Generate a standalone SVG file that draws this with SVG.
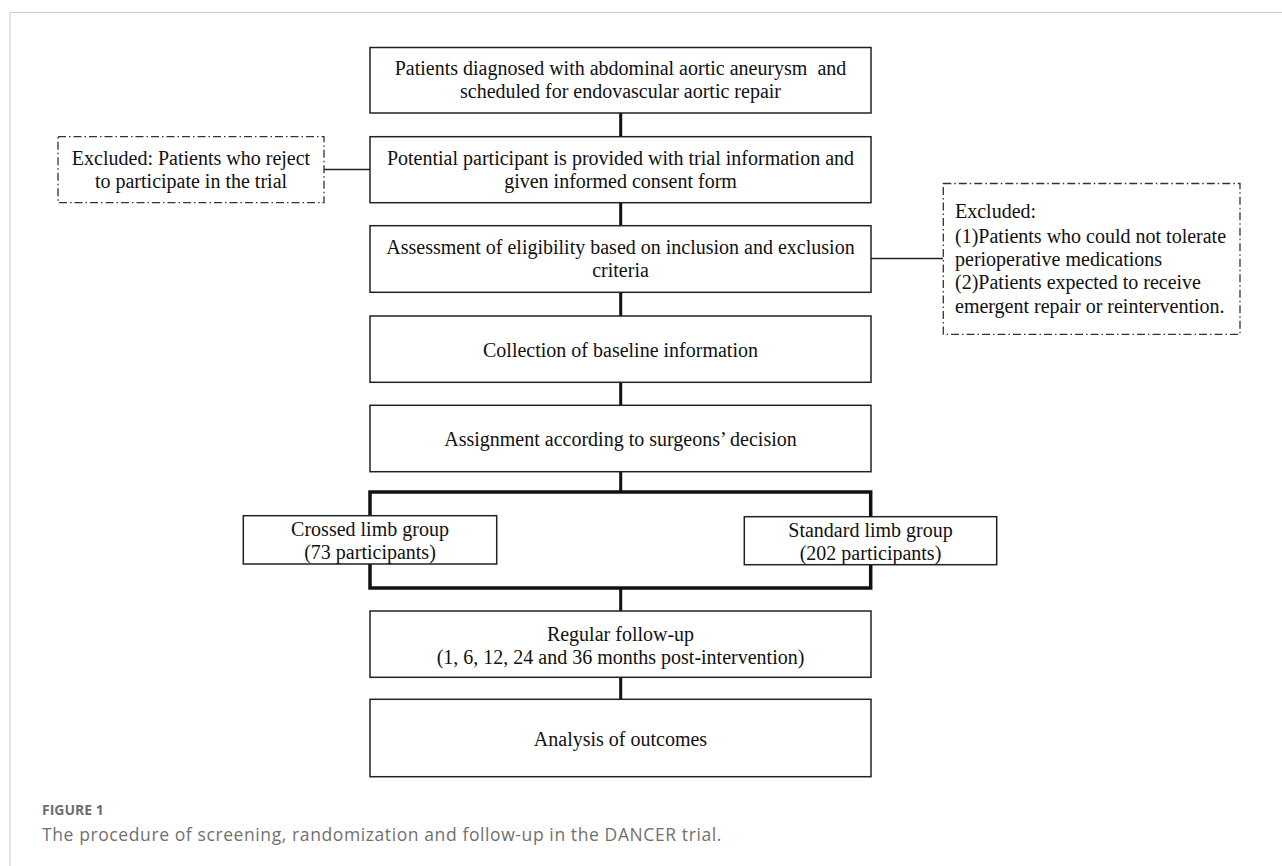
<svg xmlns="http://www.w3.org/2000/svg" width="1282" height="866" viewBox="0 0 1282 866">
<style>
  .box { fill: #ffffff; stroke: #222222; stroke-width: 1.5; }
  .dash { fill: #ffffff; stroke: #333333; stroke-width: 1.3; stroke-dasharray: 8 3 1.5 3; }
  .t { font-family: "Liberation Serif", "Times New Roman", serif; font-size: 20px; fill: #111111; white-space: pre; }
  .c { text-anchor: middle; }
  .conn { stroke: #111111; stroke-width: 3; fill: none; }
  .thin { stroke: #222222; stroke-width: 1.5; fill: none; }
  .branch { stroke: #111111; stroke-width: 3.5; fill: none; }
  .cap1 { font-family: "Open Sans", "Liberation Sans", sans-serif; font-size: 14px; font-weight: bold; fill: #6e6e6e; }
  .cap2 { font-family: "Open Sans", "Liberation Sans", sans-serif; font-size: 17.5px; letter-spacing: 0.6px; fill: #707070; }
</style>
<rect x="0" y="0" width="1282" height="866" fill="#ffffff"/>
<g id="frame">
  <path d="M10 866 V12.5 H1282" fill="none" stroke="#cfcfcf" stroke-width="1.2"/>
</g>
<g id="connectors">
  <line class="conn" x1="620.7" y1="113" x2="620.7" y2="136.7"/>
  <line class="conn" x1="620.7" y1="202.7" x2="620.7" y2="225.7"/>
  <line class="conn" x1="620.7" y1="292.3" x2="620.7" y2="316"/>
  <line class="conn" x1="620.7" y1="382.3" x2="620.7" y2="405.3"/>
  <line class="conn" x1="620.7" y1="471.7" x2="620.7" y2="492"/>
  <line class="conn" x1="620.7" y1="588" x2="620.7" y2="611"/>
  <line class="conn" x1="620.7" y1="677.3" x2="620.7" y2="699.3"/>
  <rect class="branch" x="370" y="492" width="500.7" height="96"/>
  <line class="thin" x1="324" y1="169.5" x2="370" y2="169.5"/>
  <line class="thin" x1="871" y1="258.5" x2="943.3" y2="258.5"/>
</g>
<g id="n1">
  <rect class="box" x="370" y="47.5" width="501" height="65.5"/>
  <text class="t c" x="620.5" y="75" xml:space="preserve">Patients diagnosed with abdominal aortic aneurysm  and</text>
  <text class="t c" x="620.5" y="97.7">scheduled for endovascular aortic repair</text>
</g>
<g id="n2">
  <rect class="box" x="370" y="136.7" width="501" height="66"/>
  <text class="t c" x="620.5" y="165">Potential participant is provided with trial information and</text>
  <text class="t c" x="620.5" y="188">given informed consent form</text>
</g>
<g id="n3">
  <rect class="box" x="370" y="225.7" width="501" height="66.6"/>
  <text class="t c" x="620.5" y="254.3">Assessment of eligibility based on inclusion and exclusion</text>
  <text class="t c" x="620.5" y="277">criteria</text>
</g>
<g id="n4">
  <rect class="box" x="370" y="316" width="501" height="66.3"/>
  <text class="t c" x="620.5" y="356.5">Collection of baseline information</text>
</g>
<g id="n5">
  <rect class="box" x="370" y="405.3" width="501" height="66.4"/>
  <text class="t c" x="620.5" y="445.5">Assignment according to surgeons’ decision</text>
</g>
<g id="n6">
  <rect class="box" x="243.3" y="515.7" width="253.4" height="48.3"/>
  <text class="t c" x="370" y="536">Crossed limb group</text>
  <text class="t c" x="370" y="559">(73 participants)</text>
</g>
<g id="n7">
  <rect class="box" x="744.3" y="516.7" width="252.4" height="48"/>
  <text class="t c" x="870.5" y="536.7">Standard limb group</text>
  <text class="t c" x="870.5" y="559.5">(202 participants)</text>
</g>
<g id="n8">
  <rect class="box" x="370" y="611" width="501" height="66.3"/>
  <text class="t c" x="620.5" y="640.7">Regular follow-up</text>
  <text class="t c" x="620.5" y="664">(1, 6, 12, 24 and 36 months post-intervention)</text>
</g>
<g id="n9">
  <rect class="box" x="370" y="699.3" width="501" height="77.4"/>
  <text class="t c" x="620.5" y="745.5">Analysis of outcomes</text>
</g>
<g id="ex1">
  <rect class="dash" x="58" y="136.7" width="266" height="66"/>
  <text class="t c" x="191" y="165">Excluded: Patients who reject</text>
  <text class="t c" x="191" y="188">to participate in the trial</text>
</g>
<g id="ex2">
  <rect class="dash" x="943.3" y="183.5" width="296.7" height="150.8"/>
  <text class="t" x="955" y="218.3">Excluded:</text>
  <text class="t" x="955" y="242.7">(1)Patients who could not tolerate</text>
  <text class="t" x="955" y="265.7">perioperative medications</text>
  <text class="t" x="955" y="289.3">(2)Patients expected to receive</text>
  <text class="t" x="955" y="312.7">emergent repair or reintervention.</text>
</g>
<g id="caption">
  <text class="cap1" x="42" y="815">FIGURE 1</text>
  <text class="cap2" x="42" y="841">The procedure of screening, randomization and follow-up in the DANCER trial.</text>
</g>
</svg>
